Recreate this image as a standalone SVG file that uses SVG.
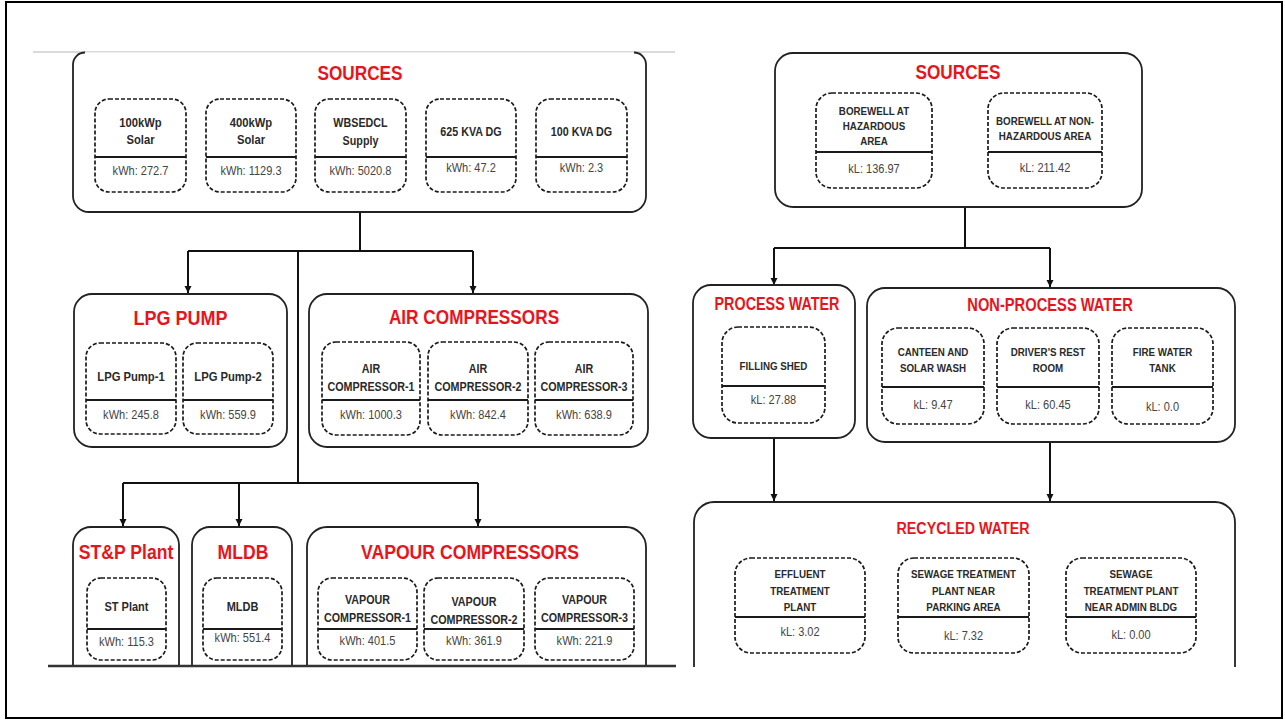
<svg xmlns="http://www.w3.org/2000/svg" width="1285" height="721" viewBox="0 0 1285 721">
<style>
.ob{fill:#fff;stroke:#222;stroke-width:1.8}
.ib{fill:#fff;stroke:#1a1a1a;stroke-width:1.7;stroke-dasharray:4 2}
.dv{stroke:#1a1a1a;stroke-width:2.2}
.cn{stroke:#111;stroke-width:2;fill:none}
.tt{font-family:"Liberation Sans",Arial,sans-serif;font-weight:700;fill:#e8141c;text-anchor:middle}
.lb{font-family:"Liberation Sans",Arial,sans-serif;font-weight:700;fill:#2a2a2a;font-size:12.5px;text-anchor:middle}
.wl{font-family:"Liberation Sans",Arial,sans-serif;font-weight:700;fill:#2a2a2a;font-size:11.5px;text-anchor:middle}
.vl{font-family:"Liberation Sans",Arial,sans-serif;font-weight:400;fill:#444;font-size:12px;text-anchor:middle}
</style>
<defs>
<marker id="ah" markerWidth="8" markerHeight="8" refX="7" refY="4" orient="auto" markerUnits="userSpaceOnUse">
<path d="M0,0.5 L7,4 L0,7.5 z" fill="#111"/>
</marker>
</defs>
<rect x="0" y="0" width="1285" height="721" fill="#fff"/>
<rect x="6" y="2" width="1276" height="716" fill="none" stroke="#000" stroke-width="2"/>
<line x1="33" y1="52" x2="675" y2="52" stroke="#b5b5b5" stroke-width="1"/>

<g id="connectors">
<path class="cn" d="M360,212 V251 M188,251 H473 M298,251 V483 M123,483 H478"/>
<path class="cn" d="M188,251 V293" marker-end="url(#ah)"/>
<path class="cn" d="M473,251 V293" marker-end="url(#ah)"/>
<path class="cn" d="M123,483 V526" marker-end="url(#ah)"/>
<path class="cn" d="M239,483 V526" marker-end="url(#ah)"/>
<path class="cn" d="M478,483 V526" marker-end="url(#ah)"/>
<path class="cn" d="M965,207 V248 M774,248 H1050"/>
<path class="cn" d="M774,248 V285" marker-end="url(#ah)"/>
<path class="cn" d="M1050,248 V287" marker-end="url(#ah)"/>
<path class="cn" d="M774,438 V501" marker-end="url(#ah)"/>
<path class="cn" d="M1050,442 V501" marker-end="url(#ah)"/>
</g>

<g id="sources-electric">
<path class="ob" d="M85,52.5 A12,12 0 0 0 73,64.5 V196 A16,16 0 0 0 89,212 H630 A16,16 0 0 0 646,196 V64.5 A12,12 0 0 0 634,52.5"/>
<text class="tt" font-size="20.5" transform="translate(360,0) scale(.84,1)" y="80">SOURCES</text>
</g>
<g id="solar100">
<rect class="ib" x="95" y="99" width="91" height="93" rx="14"/>
<line class="dv" x1="95" y1="157" x2="186" y2="157"/>
<text class="lb" font-size="13" transform="translate(140.5,0) scale(.9,1)"><tspan x="0" y="127.5">100kWp</tspan><tspan x="0" y="144">Solar</tspan></text>
<text class="vl" transform="translate(140.5,0) scale(.92,1)" y="175">kWh: 272.7</text>
</g>
<g id="solar400">
<rect class="ib" x="206" y="99" width="90" height="93" rx="14"/>
<line class="dv" x1="206" y1="157" x2="296" y2="157"/>
<text class="lb" font-size="13" transform="translate(251,0) scale(.9,1)"><tspan x="0" y="127.5">400kWp</tspan><tspan x="0" y="144">Solar</tspan></text>
<text class="vl" transform="translate(251,0) scale(.92,1)" y="175">kWh: 1129.3</text>
</g>
<g id="wbsedcl">
<rect class="ib" x="315" y="99" width="91" height="93" rx="14"/>
<line class="dv" x1="315" y1="157" x2="406" y2="157"/>
<text class="lb" font-size="13" transform="translate(360.5,0) scale(.86,1)"><tspan x="0" y="127.5">WBSEDCL</tspan><tspan x="0" y="145.5">Supply</tspan></text>
<text class="vl" transform="translate(360.5,0) scale(.92,1)" y="175">kWh: 5020.8</text>
</g>
<g id="dg625">
<rect class="ib" x="426" y="99" width="90" height="93" rx="14"/>
<line class="dv" x1="426" y1="157" x2="516" y2="157"/>
<text class="lb" font-size="13" transform="translate(471,0) scale(.86,1)" y="136.5">625 KVA DG</text>
<text class="vl" transform="translate(471,0) scale(.92,1)" y="172">kWh: 47.2</text>
</g>
<g id="dg100">
<rect class="ib" x="536" y="99" width="91" height="93" rx="14"/>
<line class="dv" x1="536" y1="157" x2="627" y2="157"/>
<text class="lb" font-size="13" transform="translate(581.5,0) scale(.86,1)" y="136.5">100 KVA DG</text>
<text class="vl" transform="translate(581.5,0) scale(.92,1)" y="172">kWh: 2.3</text>
</g>

<g id="lpg-pump">
<rect class="ob" x="74" y="294" width="213" height="153" rx="18"/>
<text class="tt" font-size="20.5" transform="translate(180.5,0) scale(.88,1)" y="325">LPG PUMP</text>
<rect class="ib" x="86" y="343" width="90" height="91" rx="14"/>
<line class="dv" x1="86" y1="400" x2="176" y2="400"/>
<text class="lb" font-size="13" transform="translate(131,0) scale(.9,1)" y="381.5">LPG Pump-1</text>
<text class="vl" transform="translate(131,0) scale(.92,1)" y="419">kWh: 245.8</text>
<rect class="ib" x="183" y="343" width="90" height="91" rx="14"/>
<line class="dv" x1="183" y1="400" x2="273" y2="400"/>
<text class="lb" font-size="13" transform="translate(228,0) scale(.9,1)" y="381.5">LPG Pump-2</text>
<text class="vl" transform="translate(228,0) scale(.92,1)" y="419">kWh: 559.9</text>
</g>

<g id="air-compressors">
<rect class="ob" x="309" y="294" width="339" height="153" rx="18"/>
<text class="tt" font-size="20.5" transform="translate(474,0) scale(.84,1)" y="324">AIR COMPRESSORS</text>
<rect class="ib" x="322" y="342" width="98" height="93" rx="14"/>
<line class="dv" x1="322" y1="400" x2="420" y2="400"/>
<text class="lb" transform="translate(371,0) scale(.86,1)"><tspan x="0" y="373.5">AIR</tspan><tspan x="0" y="391.5">COMPRESSOR-1</tspan></text>
<text class="vl" transform="translate(371,0) scale(.92,1)" y="419">kWh: 1000.3</text>
<rect class="ib" x="428" y="342" width="100" height="93" rx="14"/>
<line class="dv" x1="428" y1="400" x2="528" y2="400"/>
<text class="lb" transform="translate(478,0) scale(.86,1)"><tspan x="0" y="373.5">AIR</tspan><tspan x="0" y="391.5">COMPRESSOR-2</tspan></text>
<text class="vl" transform="translate(478,0) scale(.92,1)" y="419">kWh: 842.4</text>
<rect class="ib" x="535" y="342" width="98" height="93" rx="14"/>
<line class="dv" x1="535" y1="400" x2="633" y2="400"/>
<text class="lb" transform="translate(584,0) scale(.86,1)"><tspan x="0" y="373.5">AIR</tspan><tspan x="0" y="391.5">COMPRESSOR-3</tspan></text>
<text class="vl" transform="translate(584,0) scale(.92,1)" y="419">kWh: 638.9</text>
</g>

<g id="stp-plant">
<path class="ob" d="M73,666 V545 A18,18 0 0 1 91,527 H161 A18,18 0 0 1 179,545 V666"/>
<text class="tt" font-size="20.5" transform="translate(126,0) scale(.86,1)" y="559">ST&amp;P Plant</text>
<rect class="ib" x="87" y="578" width="79" height="82" rx="14"/>
<line class="dv" x1="87" y1="629" x2="166" y2="629"/>
<text class="lb" font-size="13" transform="translate(126.5,0) scale(.88,1)" y="611.5">ST Plant</text>
<text class="vl" transform="translate(126.5,0) scale(.92,1)" y="646">kWh: 115.3</text>
</g>

<g id="mldb">
<path class="ob" d="M192,666 V545 A18,18 0 0 1 210,527 H274 A18,18 0 0 1 292,545 V666"/>
<text class="tt" font-size="20.5" transform="translate(243,0) scale(.86,1)" y="559">MLDB</text>
<rect class="ib" x="203" y="578" width="79" height="82" rx="14"/>
<line class="dv" x1="203" y1="629" x2="282" y2="629"/>
<text class="lb" font-size="13" transform="translate(242.5,0) scale(.88,1)" y="611.5">MLDB</text>
<text class="vl" transform="translate(242.5,0) scale(.92,1)" y="642">kWh: 551.4</text>
</g>

<g id="vapour-compressors">
<path class="ob" d="M307,666 V547 A20,20 0 0 1 327,527 H626 A20,20 0 0 1 646,547 V666"/>
<text class="tt" font-size="20.5" transform="translate(470,0) scale(.86,1)" y="559">VAPOUR COMPRESSORS</text>
<rect class="ib" x="318" y="578" width="99" height="82" rx="14"/>
<line class="dv" x1="318" y1="629" x2="417" y2="629"/>
<text class="lb" transform="translate(367.5,0) scale(.86,1)"><tspan x="0" y="604.5">VAPOUR</tspan><tspan x="0" y="622.5">COMPRESSOR-1</tspan></text>
<text class="vl" transform="translate(367.5,0) scale(.92,1)" y="645">kWh: 401.5</text>
<rect class="ib" x="424" y="578" width="100" height="82" rx="14"/>
<line class="dv" x1="424" y1="629" x2="524" y2="629"/>
<text class="lb" transform="translate(474,0) scale(.86,1)"><tspan x="0" y="606">VAPOUR</tspan><tspan x="0" y="624">COMPRESSOR-2</tspan></text>
<text class="vl" transform="translate(474,0) scale(.92,1)" y="645">kWh: 361.9</text>
<rect class="ib" x="535" y="578" width="99" height="82" rx="14"/>
<line class="dv" x1="535" y1="629" x2="634" y2="629"/>
<text class="lb" transform="translate(584.5,0) scale(.86,1)"><tspan x="0" y="604.5">VAPOUR</tspan><tspan x="0" y="622.5">COMPRESSOR-3</tspan></text>
<text class="vl" transform="translate(584.5,0) scale(.92,1)" y="645">kWh: 221.9</text>
</g>
<line x1="48" y1="666" x2="676" y2="666" stroke="#333" stroke-width="2.5"/>

<g id="sources-water">
<rect class="ob" x="775" y="53" width="367" height="154" rx="18"/>
<text class="tt" font-size="20.5" transform="translate(958,0) scale(.84,1)" y="79">SOURCES</text>
<rect class="ib" x="816" y="93" width="116" height="95" rx="16"/>
<line class="dv" x1="816" y1="152" x2="932" y2="152"/>
<text class="wl" transform="translate(874,0) scale(.85,1)"><tspan x="0" y="115">BOREWELL AT</tspan><tspan x="0" y="130">HAZARDOUS</tspan><tspan x="0" y="145">AREA</tspan></text>
<text class="vl" transform="translate(874,0) scale(.92,1)" y="173">kL: 136.97</text>
<rect class="ib" x="988" y="93" width="114" height="95" rx="16"/>
<line class="dv" x1="988" y1="152" x2="1102" y2="152"/>
<text class="wl" transform="translate(1045,0) scale(.85,1)"><tspan x="0" y="125">BOREWELL AT NON-</tspan><tspan x="0" y="140">HAZARDOUS AREA</tspan></text>
<text class="vl" transform="translate(1045,0) scale(.92,1)" y="172">kL: 211.42</text>
</g>

<g id="process-water">
<rect class="ob" x="693" y="285" width="162" height="153" rx="18"/>
<text class="tt" font-size="17.5" transform="translate(777,0) scale(.82,1)" y="310">PROCESS WATER</text>
<rect class="ib" x="722" y="327" width="103" height="96" rx="16"/>
<line class="dv" x1="722" y1="386" x2="825" y2="386"/>
<text class="wl" transform="translate(773.5,0) scale(.85,1)" y="370">FILLING SHED</text>
<text class="vl" transform="translate(773.5,0) scale(.92,1)" y="404">kL: 27.88</text>
</g>

<g id="non-process-water">
<rect class="ob" x="867" y="288" width="368" height="154" rx="18"/>
<text class="tt" font-size="17.5" transform="translate(1050,0) scale(.84,1)" y="311">NON-PROCESS WATER</text>
<rect class="ib" x="882" y="328" width="102" height="96" rx="16"/>
<line class="dv" x1="882" y1="387" x2="984" y2="387"/>
<text class="wl" transform="translate(933,0) scale(.85,1)"><tspan x="0" y="356">CANTEEN AND</tspan><tspan x="0" y="372">SOLAR WASH</tspan></text>
<text class="vl" transform="translate(933,0) scale(.92,1)" y="409">kL: 9.47</text>
<rect class="ib" x="997" y="328" width="102" height="96" rx="16"/>
<line class="dv" x1="997" y1="387" x2="1099" y2="387"/>
<text class="wl" transform="translate(1048,0) scale(.85,1)"><tspan x="0" y="356">DRIVER'S REST</tspan><tspan x="0" y="372">ROOM</tspan></text>
<text class="vl" transform="translate(1048,0) scale(.92,1)" y="409">kL: 60.45</text>
<rect class="ib" x="1112" y="328" width="101" height="96" rx="16"/>
<line class="dv" x1="1112" y1="387" x2="1213" y2="387"/>
<text class="wl" transform="translate(1162.5,0) scale(.85,1)"><tspan x="0" y="356">FIRE WATER</tspan><tspan x="0" y="372">TANK</tspan></text>
<text class="vl" transform="translate(1162.5,0) scale(.92,1)" y="411">kL: 0.0</text>
</g>

<g id="recycled-water">
<path class="ob" d="M694,667 V522 A20,20 0 0 1 714,502 H1215 A20,20 0 0 1 1235,522 V667"/>
<text class="tt" font-size="17" transform="translate(963,0) scale(.84,1)" y="534">RECYCLED WATER</text>
<rect class="ib" x="735" y="558" width="130" height="95" rx="16"/>
<line class="dv" x1="735" y1="617" x2="865" y2="617"/>
<text class="wl" transform="translate(800,0) scale(.85,1)"><tspan x="0" y="578">EFFLUENT</tspan><tspan x="0" y="595">TREATMENT</tspan><tspan x="0" y="611">PLANT</tspan></text>
<text class="vl" transform="translate(800,0) scale(.92,1)" y="636">kL: 3.02</text>
<rect class="ib" x="898" y="558" width="131" height="95" rx="16"/>
<line class="dv" x1="898" y1="617" x2="1029" y2="617"/>
<text class="wl" transform="translate(963.5,0) scale(.85,1)"><tspan x="0" y="578">SEWAGE TREATMENT</tspan><tspan x="0" y="595">PLANT NEAR</tspan><tspan x="0" y="611">PARKING AREA</tspan></text>
<text class="vl" transform="translate(963.5,0) scale(.92,1)" y="640">kL: 7.32</text>
<rect class="ib" x="1066" y="558" width="130" height="95" rx="16"/>
<line class="dv" x1="1066" y1="617" x2="1196" y2="617"/>
<text class="wl" transform="translate(1131,0) scale(.85,1)"><tspan x="0" y="578">SEWAGE</tspan><tspan x="0" y="595">TREATMENT PLANT</tspan><tspan x="0" y="611">NEAR ADMIN BLDG</tspan></text>
<text class="vl" transform="translate(1131,0) scale(.92,1)" y="639">kL: 0.00</text>
</g>
</svg>
